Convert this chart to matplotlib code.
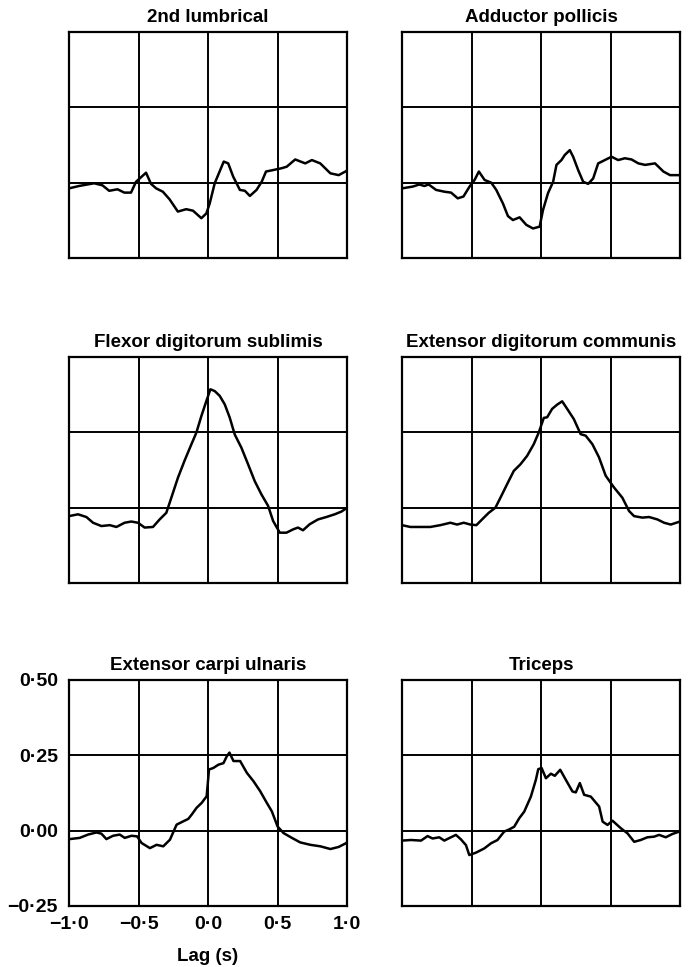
import matplotlib
matplotlib.use("Agg")
import matplotlib.pyplot as plt

plt.rcParams['font.family'] = ['Liberation Sans', 'DejaVu Sans']
plt.rcParams['font.weight'] = 'bold'

titles = ["2nd lumbrical", "Adductor pollicis",
          "Flexor digitorum sublimis", "Extensor digitorum communis",
          "Extensor carpi ulnaris", "Triceps"]

lumb_x = [-1.0, -0.928, -0.819, -0.759, -0.711, -0.651, -0.602, -0.554, -0.518, -0.446,
          -0.410, -0.373, -0.325, -0.277, -0.217, -0.157, -0.108, -0.048, -0.012, 0.012,
          0.048, 0.113, 0.145, 0.181, 0.229, 0.265, 0.301, 0.349, 0.386, 0.417,
          0.470, 0.530, 0.566, 0.627, 0.699, 0.747, 0.807, 0.880, 0.940, 0.988]
lumb_y = [-0.019, -0.011, -0.002, -0.009, -0.027, -0.022, -0.033, -0.033, 0.003, 0.033,
          -0.004, -0.019, -0.030, -0.055, -0.096, -0.088, -0.093, -0.118, -0.102, -0.069,
          -0.002, 0.070, 0.064, 0.020, -0.024, -0.027, -0.044, -0.024, 0.003, 0.037,
          0.042, 0.048, 0.053, 0.077, 0.064, 0.075, 0.064, 0.031, 0.025, 0.037]

addp_x = [-1.0, -0.923, -0.875, -0.839, -0.808, -0.755, -0.695, -0.647, -0.599, -0.558,
          -0.514, -0.478, -0.447, -0.406, -0.358, -0.322, -0.274, -0.238, -0.202, -0.154,
          -0.106, -0.058, -0.010, 0.014, 0.050, 0.087, 0.111, 0.147, 0.171, 0.207,
          0.231, 0.267, 0.303, 0.339, 0.375, 0.411, 0.459, 0.507, 0.555, 0.603,
          0.651, 0.700, 0.748, 0.820, 0.880, 0.928, 0.988]
addp_y = [-0.019, -0.013, -0.006, -0.011, -0.006, -0.024, -0.030, -0.033, -0.052, -0.046,
          -0.013, 0.009, 0.037, 0.009, 0.0, -0.024, -0.069, -0.111, -0.124, -0.115,
          -0.140, -0.152, -0.146, -0.091, -0.035, 0.003, 0.059, 0.075, 0.092, 0.108,
          0.086, 0.042, 0.003, -0.004, 0.014, 0.064, 0.075, 0.086, 0.075, 0.081,
          0.077, 0.064, 0.059, 0.064, 0.037, 0.025, 0.025]

fds_x = [-1.0, -0.935, -0.875, -0.827, -0.767, -0.707, -0.659, -0.600, -0.552, -0.504,
         -0.456, -0.396, -0.348, -0.300, -0.264, -0.216, -0.168, -0.120, -0.084, -0.048,
         -0.012, 0.017, 0.048, 0.084, 0.120, 0.156, 0.192, 0.240, 0.288, 0.336,
         0.384, 0.432, 0.468, 0.516, 0.564, 0.612, 0.647, 0.683, 0.731, 0.791,
         0.851, 0.911, 0.959, 0.995]
fds_y = [-0.028, -0.022, -0.031, -0.050, -0.061, -0.058, -0.064, -0.050, -0.046, -0.050,
         -0.066, -0.064, -0.039, -0.017, 0.033, 0.100, 0.157, 0.210, 0.249, 0.304,
         0.354, 0.393, 0.387, 0.371, 0.343, 0.299, 0.243, 0.199, 0.144, 0.088,
         0.044, 0.006, -0.044, -0.083, -0.083, -0.072, -0.066, -0.075, -0.055, -0.039,
         -0.031, -0.022, -0.013, -0.002]

edc_x = [-1.0, -0.940, -0.868, -0.796, -0.724, -0.652, -0.604, -0.556, -0.508, -0.465,
         -0.424, -0.376, -0.328, -0.292, -0.244, -0.196, -0.148, -0.100, -0.052, -0.016,
         0.020, 0.044, 0.080, 0.116, 0.152, 0.188, 0.236, 0.285, 0.321, 0.369,
         0.417, 0.465, 0.525, 0.585, 0.633, 0.669, 0.729, 0.777, 0.837, 0.885,
         0.933, 0.993]
edc_y = [-0.058, -0.064, -0.064, -0.064, -0.058, -0.050, -0.056, -0.050, -0.056, -0.058,
         -0.039, -0.017, 0.0, 0.033, 0.078, 0.122, 0.144, 0.172, 0.211, 0.250,
         0.298, 0.300, 0.328, 0.342, 0.353, 0.328, 0.294, 0.244, 0.239, 0.211,
         0.167, 0.106, 0.067, 0.033, -0.011, -0.028, -0.033, -0.031, -0.039, -0.050,
         -0.056, -0.047]

ecu_x = [-0.995, -0.923, -0.863, -0.803, -0.767, -0.731, -0.683, -0.635, -0.599, -0.550,
         -0.510, -0.478, -0.418, -0.370, -0.322, -0.274, -0.226, -0.178, -0.142, -0.118,
         -0.082, -0.046, -0.010, 0.007, 0.038, 0.075, 0.111, 0.135, 0.154, 0.183,
         0.231, 0.279, 0.327, 0.375, 0.423, 0.459, 0.500, 0.543, 0.603, 0.663,
         0.736, 0.808, 0.880, 0.940, 0.995]
ecu_y = [-0.028, -0.024, -0.013, -0.006, -0.010, -0.028, -0.017, -0.013, -0.024, -0.017,
         -0.019, -0.041, -0.058, -0.047, -0.052, -0.030, 0.020, 0.031, 0.039, 0.053,
         0.076, 0.092, 0.114, 0.203, 0.208, 0.219, 0.224, 0.247, 0.259, 0.231,
         0.231, 0.192, 0.164, 0.131, 0.092, 0.064, 0.014, -0.008, -0.024, -0.039,
         -0.047, -0.052, -0.061, -0.054, -0.041]

tri_x = [-1.0, -0.935, -0.863, -0.816, -0.780, -0.732, -0.696, -0.648, -0.612, -0.576,
         -0.540, -0.516, -0.468, -0.408, -0.360, -0.313, -0.265, -0.229, -0.193, -0.157,
         -0.121, -0.073, -0.037, -0.020, 0.004, 0.035, 0.071, 0.099, 0.138, 0.178,
         0.226, 0.250, 0.279, 0.310, 0.358, 0.418, 0.443, 0.478, 0.514, 0.574,
         0.622, 0.670, 0.717, 0.765, 0.813, 0.849, 0.897, 0.945, 0.995]
tri_y = [-0.033, -0.031, -0.033, -0.018, -0.026, -0.022, -0.033, -0.022, -0.014, -0.029,
         -0.048, -0.081, -0.073, -0.059, -0.042, -0.031, -0.003, 0.004, 0.013, 0.041,
         0.063, 0.113, 0.169, 0.204, 0.208, 0.174, 0.189, 0.182, 0.202, 0.169,
         0.130, 0.127, 0.158, 0.119, 0.113, 0.080, 0.030, 0.019, 0.033, 0.008,
         -0.009, -0.037, -0.031, -0.022, -0.020, -0.014, -0.022, -0.011, -0.003]

series = [(lumb_x, lumb_y), (addp_x, addp_y), (fds_x, fds_y),
          (edc_x, edc_y), (ecu_x, ecu_y), (tri_x, tri_y)]

xticks = [-1.0, -0.5, 0.0, 0.5, 1.0]
xlabels = ["\u22121\u00b70", "\u22120\u00b75", "0\u00b70", "0\u00b75", "1\u00b70"]
yticks = [-0.25, 0.0, 0.25, 0.5]
ylabels = ["\u22120\u00b725", "0\u00b700", "0\u00b725", "0\u00b750"]

fig = plt.figure(figsize=(6.9, 9.67), dpi=100)
lefts = [0.100, 0.5826]
bottoms = [0.7332, 0.3971, 0.0631]
w, h = 0.403, 0.2337

for i, (xs, ys) in enumerate(series):
    r, c = divmod(i, 2)
    ax = fig.add_axes([lefts[c], bottoms[r], w, h])
    ax.plot(xs, ys, color="black", lw=1.8)
    ax.set_xlim(-1, 1)
    ax.set_ylim(-0.25, 0.5)
    for gx in [-0.5, 0.0, 0.5]:
        ax.axvline(gx, color="black", lw=1.4, zorder=0)
    for gy in [0.0, 0.25]:
        ax.axhline(gy, color="black", lw=1.4, zorder=0)
    for s in ax.spines.values():
        s.set_linewidth(1.6)
    ax.set_title(titles[i], fontsize=13.5, fontweight="bold", pad=7)
    ax.tick_params(length=0)
    if i == 4:
        ax.set_xticks(xticks)
        ax.set_xticklabels(xlabels, fontsize=14, fontweight="bold")
        ax.set_yticks(yticks)
        ax.set_yticklabels(ylabels, fontsize=14, fontweight="bold")
        ax.tick_params(axis="y", pad=8)
        ax.tick_params(axis="x", pad=7)
        ax.set_xlabel("Lag (s)", fontsize=13.5, fontweight="bold", labelpad=11)
    else:
        ax.set_xticks([])
        ax.set_yticks([])

fig.savefig("out.png", dpi=100)
